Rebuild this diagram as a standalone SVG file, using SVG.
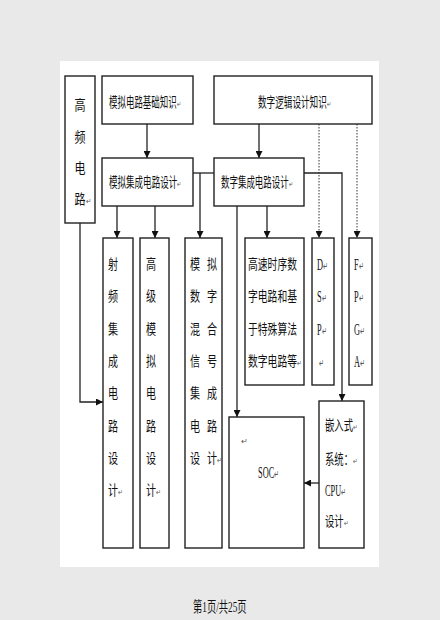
<svg xmlns="http://www.w3.org/2000/svg" width="440" height="620" viewBox="0 0 440 620">
<defs>
<marker id="ah" viewBox="0 0 10 10" refX="10" refY="5" markerWidth="10" markerHeight="7" markerUnits="userSpaceOnUse" orient="auto">
<path d="M0,0 L10,5 L0,10 z" fill="#111"/>
</marker>
<style>
.box{fill:#fff;stroke:#222;stroke-width:1.4}
.t{font-family:"Liberation Serif","Noto Sans CJK SC",serif;font-size:14px;fill:#111}
.v{font-family:"Liberation Serif","Noto Sans CJK SC",serif;font-size:14px;fill:#111;text-anchor:middle}
.l{font-family:"Liberation Serif",serif;font-size:16px;fill:#111}
.r{font-family:"Noto Sans CJK SC",sans-serif;font-size:8px;fill:#555}
.r2{font-family:"Noto Sans CJK SC",sans-serif;font-size:11px;fill:#555}
.ln{fill:none;stroke:#222;stroke-width:1.3}
.dt{fill:none;stroke:#333;stroke-width:1;stroke-dasharray:1.5,1.5}
</style>
</defs>
<rect x="0" y="0" width="440" height="620" fill="#e9e9e9"/>
<rect x="60" y="61" width="319" height="506" fill="#fff"/>

<g id="connectors">
<path class="ln" d="M147,124 V158" marker-end="url(#ah)"/>
<path class="ln" d="M259,124 V158" marker-end="url(#ah)"/>
<path class="dt" d="M319,124 V238" marker-end="url(#ah)"/>
<path class="dt" d="M357,124 V238" marker-end="url(#ah)"/>
<path class="ln" d="M193,173 H214"/>
<path class="ln" d="M200,173 V238" marker-end="url(#ah)"/>
<path class="ln" d="M117,206 V238" marker-end="url(#ah)"/>
<path class="ln" d="M155,206 V238" marker-end="url(#ah)"/>
<path class="ln" d="M237,206 V417" marker-end="url(#ah)"/>
<path class="ln" d="M267,206 V238" marker-end="url(#ah)"/>
<path class="ln" d="M304,173 H342 V401" marker-end="url(#ah)"/>
<path class="ln" d="M80,223 V402 H103" marker-end="url(#ah)"/>
<path class="ln" d="M319,483 H304" marker-end="url(#ah)"/>
</g>

<g id="n-gaopin">
<rect class="box" x="65" y="76" width="30" height="147"/>
<g transform="translate(80,0) scale(0.79,1)">
<text class="v" x="0" y="110">高</text>
<text class="v" x="0" y="142">频</text>
<text class="v" x="0" y="173">电</text>
<text class="t" x="-7" y="204">路<tspan class="r">↵</tspan></text>
</g>
</g>

<g id="n-moni-jichu">
<rect class="box" x="102" y="76" width="91" height="48"/>
<text class="t" transform="translate(109,107) scale(0.605,1)">模拟电路基础知识<tspan class="r">↵</tspan></text>
</g>

<g id="n-shuzi-luoji">
<rect class="box" x="214" y="76" width="158" height="48"/>
<text class="t" transform="translate(258,107) scale(0.615,1)">数字逻辑设计知识<tspan class="r">↵</tspan></text>
</g>

<g id="n-moni-jicheng">
<rect class="box" x="102" y="158" width="91" height="48"/>
<text class="t" transform="translate(109,187) scale(0.61,1)">模拟集成电路设计<tspan class="r">↵</tspan></text>
</g>

<g id="n-shuzi-jicheng">
<rect class="box" x="214" y="158" width="90" height="48"/>
<text class="t" transform="translate(221,187) scale(0.605,1)">数字集成电路设计<tspan class="r">↵</tspan></text>
</g>

<g id="n-shepin">
<rect class="box" x="103" y="238" width="30" height="310"/>
<g transform="translate(113,0) scale(0.72,1)">
<text class="v" x="0" y="269">射</text>
<text class="v" x="0" y="301">频</text>
<text class="v" x="0" y="334">集</text>
<text class="v" x="0" y="366">成</text>
<text class="v" x="0" y="398">电</text>
<text class="v" x="0" y="431">路</text>
<text class="v" x="0" y="463">设</text>
<text class="t" x="-7" y="495">计<tspan class="r">↵</tspan></text>
</g>
</g>

<g id="n-gaoji-moni">
<rect class="box" x="140" y="238" width="29" height="310"/>
<g transform="translate(151,0) scale(0.72,1)">
<text class="v" x="0" y="269">高</text>
<text class="v" x="0" y="301">级</text>
<text class="v" x="0" y="334">模</text>
<text class="v" x="0" y="366">拟</text>
<text class="v" x="0" y="398">电</text>
<text class="v" x="0" y="431">路</text>
<text class="v" x="0" y="463">设</text>
<text class="t" x="-7" y="495">计<tspan class="r">↵</tspan></text>
</g>
</g>

<g id="n-hunhe">
<rect class="box" x="185" y="238" width="37" height="310"/>
<g transform="translate(195,0) scale(0.72,1)">
<text class="v" x="0" y="269">模</text>
<text class="v" x="0" y="301">数</text>
<text class="v" x="0" y="334">混</text>
<text class="v" x="0" y="366">信</text>
<text class="v" x="0" y="398">集</text>
<text class="v" x="0" y="431">电</text>
<text class="v" x="0" y="463">设</text>
</g>
<g transform="translate(212,0) scale(0.72,1)">
<text class="v" x="0" y="269">拟</text>
<text class="v" x="0" y="301">字</text>
<text class="v" x="0" y="334">合</text>
<text class="v" x="0" y="366">号</text>
<text class="v" x="0" y="398">成</text>
<text class="v" x="0" y="431">路</text>
<text class="t" x="-7" y="463">计<tspan class="r">↵</tspan></text>
</g>
</g>

<g id="n-gaosu">
<rect class="box" x="245" y="238" width="59" height="147"/>
<g transform="translate(248,0) scale(0.7,1)">
<text class="t" x="0" y="269">高速时序数</text>
<text class="t" x="0" y="301">字电路和基</text>
<text class="t" x="0" y="334">于特殊算法</text>
<text class="t" x="0" y="366">数字电路等<tspan class="r">↵</tspan></text>
</g>
</g>

<g id="n-dsp">
<rect class="box" x="312" y="238" width="22" height="147"/>
<g transform="translate(317,0) scale(0.52,1)">
<text class="l" x="0" y="270">D<tspan class="r2">↵</tspan></text>
<text class="l" x="0" y="302">S<tspan class="r2">↵</tspan></text>
<text class="l" x="0" y="335">P<tspan class="r2">↵</tspan></text>
<text class="r2" x="3" y="367">↵</text>
</g>
</g>

<g id="n-fpga">
<rect class="box" x="349" y="238" width="23" height="147"/>
<g transform="translate(354,0) scale(0.52,1)">
<text class="l" x="0" y="270">F<tspan class="r2">↵</tspan></text>
<text class="l" x="0" y="302">P<tspan class="r2">↵</tspan></text>
<text class="l" x="0" y="335">G<tspan class="r2">↵</tspan></text>
<text class="l" x="0" y="367">A<tspan class="r2">↵</tspan></text>
</g>
</g>

<g id="n-soc">
<rect class="box" x="229" y="417" width="75" height="131"/>
<text class="r" x="241" y="444">↵</text>
<text class="l" transform="translate(258,478) scale(0.52,1)">SOC<tspan class="r2">↵</tspan></text>
</g>

<g id="n-qianru">
<rect class="box" x="319" y="401" width="45" height="147"/>
<g transform="translate(325,0) scale(0.67,1)">
<text class="t" x="0" y="430">嵌入式<tspan class="r">↵</tspan></text>
<text class="t" x="0" y="464">系统：<tspan class="r">↵</tspan></text>
<text class="t" x="0" y="526">设计<tspan class="r">↵</tspan></text>
</g>
<text class="l" transform="translate(325,496) scale(0.52,1)">CPU<tspan class="r2">↵</tspan></text>
</g>

<text class="t" transform="translate(193,612) scale(0.64,1)" style="font-size:14.5px">第1页/共25页</text>
</svg>
